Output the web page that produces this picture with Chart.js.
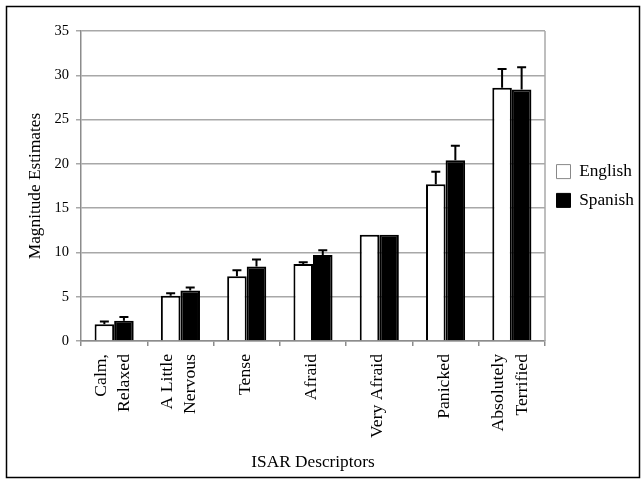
<!DOCTYPE html>
<html>
<head>
<meta charset="utf-8">
<title>ISAR Descriptors – Magnitude Estimates</title>
<script src="https://cdn.jsdelivr.net/npm/chart.js@4.4.1/dist/chart.umd.min.js"></script>
<style>
  html, body { margin: 0; padding: 0; background: #fff; }
  canvas { display: block; }
</style>
</head>
<body>
<canvas id="chart" width="642" height="480"></canvas>
<script>
// Category labels (multi-line where the descriptor has two words stacked)
const categories = [
  ['Calm,', 'Relaxed'],
  ['A Little', 'Nervous'],
  'Tense',
  'Afraid',
  'Very Afraid',
  'Panicked',
  ['Absolutely', 'Terrified']
];

// Mean magnitude estimates per descriptor
const englishMeans = [1.9, 5.1, 7.3, 8.7, 12.0, 17.7, 28.6];
const spanishMeans = [2.3, 5.7, 8.4, 9.7, 12.0, 20.4, 28.4];

// Upper error bar lengths (standard error)
const englishErrors = [0.3, 0.3, 0.7, 0.2, 0, 1.4, 2.1];
const spanishErrors = [0.4, 0.35, 0.8, 0.55, 0, 1.65, 2.5];

// Y axis range and tick step
const yMin = 0;
const yMax = 35;
const yStep = 5;

const SERIF = "'Liberation Serif', 'Times New Roman', serif";

// White page with a thin black frame around the whole figure
const framePlugin = {
  id: 'frame',
  beforeDraw(chart) {
    const ctx = chart.ctx;
    ctx.save();
    ctx.fillStyle = '#fff';
    ctx.fillRect(0, 0, chart.width, chart.height);
    ctx.strokeStyle = '#000';
    ctx.lineWidth = 1.5;
    ctx.strokeRect(6.5, 6.5, 633, 471);
    ctx.restore();
  }
};

// Right edge of the plot area
const plotBorderPlugin = {
  id: 'plotBorder',
  beforeDatasetsDraw(chart) {
    const {ctx, chartArea} = chart;
    ctx.save();
    ctx.strokeStyle = '#a8a8a8';
    ctx.lineWidth = 1.5;
    ctx.beginPath();
    ctx.moveTo(chartArea.right, chartArea.top);
    ctx.lineTo(chartArea.right, chartArea.bottom);
    ctx.stroke();
    ctx.restore();
  }
};

// Upper whiskers with a cap on each bar
const errorBarPlugin = {
  id: 'errorBars',
  afterDatasetsDraw(chart) {
    const {ctx} = chart;
    const yScale = chart.scales.y;
    ctx.save();
    ctx.strokeStyle = '#000';
    ctx.lineWidth = 2;
    chart.data.datasets.forEach((ds, di) => {
      const meta = chart.getDatasetMeta(di);
      meta.data.forEach((bar, i) => {
        const err = ds.errors[i];
        if (!err) return;
        const yTop = yScale.getPixelForValue(ds.data[i] + err);
        const yBase = yScale.getPixelForValue(ds.data[i]);
        const half = 4.5;
        ctx.beginPath();
        ctx.moveTo(bar.x, yBase);
        ctx.lineTo(bar.x, yTop);
        ctx.moveTo(bar.x - half, yTop);
        ctx.lineTo(bar.x + half, yTop);
        ctx.stroke();
      });
    });
    ctx.restore();
  }
};

// Vertical category labels, stacked lines centred on each category
const xLabelPlugin = {
  id: 'xLabels',
  afterDraw(chart) {
    const {ctx} = chart;
    const xScale = chart.scales.x;
    const lineGap = 23.5;
    const yAnchor = xScale.top + 13;
    ctx.save();
    ctx.fillStyle = '#000';
    ctx.font = '17.7px ' + SERIF;
    ctx.textAlign = 'right';
    ctx.textBaseline = 'middle';
    chart.data.labels.forEach((label, i) => {
      const lines = Array.isArray(label) ? label : [label];
      const cx = xScale.getPixelForTick(i) - 1.5;
      lines.forEach((line, j) => {
        const off = (j - (lines.length - 1) / 2) * lineGap;
        ctx.save();
        ctx.translate(cx + off, yAnchor);
        ctx.rotate(-Math.PI / 2);
        ctx.fillText(line, 0, 0);
        ctx.restore();
      });
    });
    ctx.restore();
  }
};

const ctx = document.getElementById('chart').getContext('2d');
new Chart(ctx, {
  type: 'bar',
  data: {
    labels: categories,
    datasets: [
      {
        label: 'English',
        data: englishMeans,
        errors: englishErrors,
        backgroundColor: '#ffffff',
        borderColor: '#000000',
        borderWidth: 2,
        categoryPercentage: 0.59,
        barPercentage: 1.0
      },
      {
        label: 'Spanish',
        data: spanishMeans,
        errors: spanishErrors,
        backgroundColor: '#000000',
        borderColor: '#000000',
        borderWidth: 2,
        categoryPercentage: 0.59,
        barPercentage: 1.0
      }
    ]
  },
  options: {
    responsive: false,
    animation: false,
    devicePixelRatio: 1,
    layout: { padding: { top: 31, left: 0, right: 0, bottom: 0 } },
    plugins: {
      tooltip: { enabled: false },
      legend: {
        position: 'right',
        fullSize: false,
        maxWidth: 97,
        labels: {
          font: { family: SERIF, size: 17.3 },
          color: '#000',
          boxWidth: 14,
          boxHeight: 14,
          padding: 11.5,
          generateLabels(chart) {
            const items = Chart.defaults.plugins.legend.labels.generateLabels(chart);
            items.forEach((it, i) => {
              it.lineWidth = 1;
              it.strokeStyle = i === 0 ? '#888888' : '#000000';
            });
            return items;
          }
        }
      }
    },
    scales: {
      x: {
        grid: {
          drawOnChartArea: false,
          drawTicks: true,
          tickLength: 5,
          color: '#8c8c8c',
          lineWidth: 1.5
        },
        border: { display: true, color: '#8c8c8c', width: 1.5 },
        ticks: { display: false },
        title: {
          display: true,
          text: 'ISAR Descriptors',
          color: '#000',
          font: { family: SERIF, size: 17.3 },
          padding: { top: 0, bottom: 7 }
        },
        afterFit(scale) { scale.height = 139; }
      },
      y: {
        min: yMin,
        max: yMax,
        grid: {
          color: '#a8a8a8',
          lineWidth: 1.5,
          tickLength: 5,
          drawTicks: true
        },
        border: { display: true, color: '#8c8c8c', width: 1.5 },
        ticks: {
          stepSize: yStep,
          padding: 7,
          color: '#000',
          font: { family: SERIF, size: 14.5 }
        },
        title: {
          display: true,
          text: 'Magnitude Estimates',
          color: '#000',
          font: { family: SERIF, size: 17.3 },
          padding: { top: 25, bottom: 0 }
        },
        afterFit(scale) { scale.width = 81; }
      }
    }
  },
  plugins: [framePlugin, plotBorderPlugin, errorBarPlugin, xLabelPlugin]
});
</script>
</body>
</html>
